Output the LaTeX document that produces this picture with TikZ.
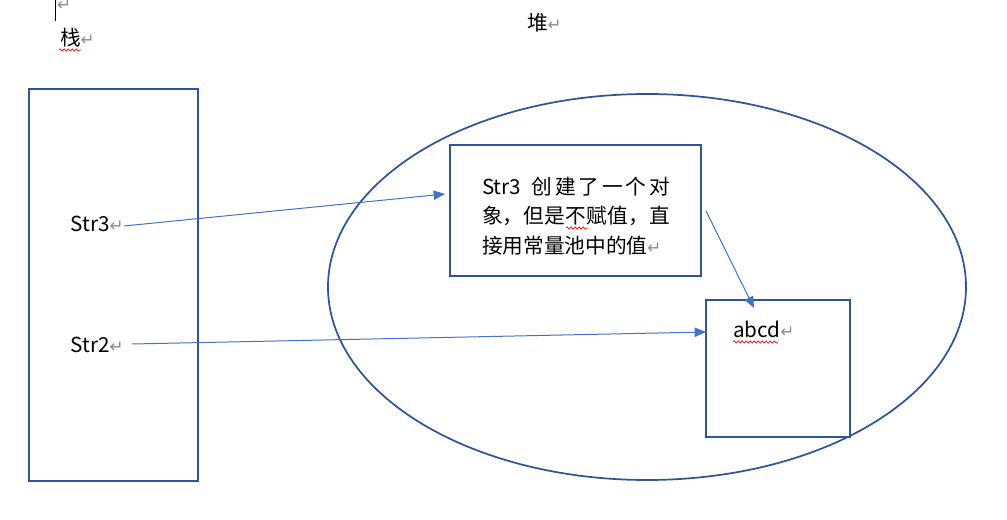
\documentclass[tikz,border=0pt]{standalone}
\usepackage{fontspec}
\setmainfont{Noto Sans CJK SC}
\newfontfamily\symfont{DejaVu Sans}
\usetikzlibrary{arrows.meta,shapes.geometric,decorations.pathmorphing}
\definecolor{boxblue}{HTML}{2F5597}
\definecolor{arrowblue}{HTML}{4472C4}
\definecolor{retgray}{HTML}{8C8C8C}
\newcommand{\retmark}{{\color{retgray}\symfont\fontsize{12.5}{12.5}\selectfont ↵}}
\tikzset{
  lbl/.style={inner sep=0pt, outer sep=0pt, font=\fontsize{15.5}{18}\selectfont, anchor=base west},
  boxline/.style={draw=boxblue, line width=1.3pt, fill=none, inner sep=0pt},
  link/.style={draw=arrowblue, line width=0.75pt, -{Triangle[length=8.5pt,width=7pt]}},
  squiggle/.style={draw=red, line width=0.5pt, decorate, decoration={snake, segment length=3pt, amplitude=0.9pt}}
}
\begin{document}
\begin{tikzpicture}[x=0.75pt,y=-0.75pt]
\useasboundingbox (0,0) rectangle (1007,520);
\fill[white] (0,0) rectangle (1007,520);

% cursor and first empty paragraph mark
\coordinate (curtop) at (55,0);
\coordinate (curbot) at (55,21);
\draw[black, line width=0.7pt] (curtop) -- (curbot);
\node[lbl, anchor=base west] (firstret) at (57,11) {\retmark};

% titles
\node[lbl] (zhan) at (60,46) {栈\retmark};
\node[lbl] (dui) at (527,31) {堆\retmark};
\draw[squiggle] (59,50) -- (81,50);

% stack rectangle
\node[boxline, rectangle, minimum width=126.75pt, minimum height=294pt] (stack) at (113.5,285) {};

% heap ellipse
\node[boxline, ellipse, minimum width=478.5pt, minimum height=289.5pt] (heap) at (647,287) {};

% message box
\node[boxline, rectangle, fill=white, minimum width=188.25pt, minimum height=98.25pt] (msg) at (575.5,210.5) {};
\node[lbl] (msgA) at (482,195) {\makebox[141pt][s]{Str3\hspace{6pt}\hfill 创\hfill 建\hfill 了\hfill 一\hfill 个\hfill 对}};
\node[lbl] (msgB) at (482,224) {\makebox[141pt][s]{象\hfill ，\hfill 但\hfill 是\hfill 不\hfill 赋\hfill 值\hfill ，\hfill 直}};
\node[lbl] (msgC) at (482,254) {接用常量池中的值\retmark};
\draw[squiggle] (566,228) -- (588,228);

% pool box
\node[boxline, rectangle, fill=white, minimum width=108pt, minimum height=102.75pt] (pool) at (778,368.5) {};
\node[lbl] (abcd) at (733,338) {abcd\retmark};
\draw[squiggle] (733,342) -- (778,342);

% stack variables
\node[lbl] (str3) at (70.5,232) {Str3\retmark};
\node[lbl] (str2) at (70.5,353) {Str2\retmark};

% connectors
\coordinate (a1s) at (124,226);
\coordinate (a1e) at (445,194);
\coordinate (a2s) at (132,344);
\coordinate (a2e) at (706,332);
\coordinate (a3s) at (706,211);
\coordinate (a3e) at (754,308);
\draw[link] (a1s) -- (a1e);
\draw[link] (a2s) -- (a2e);
\draw[link] (a3s) -- (a3e);
\end{tikzpicture}
\end{document}
